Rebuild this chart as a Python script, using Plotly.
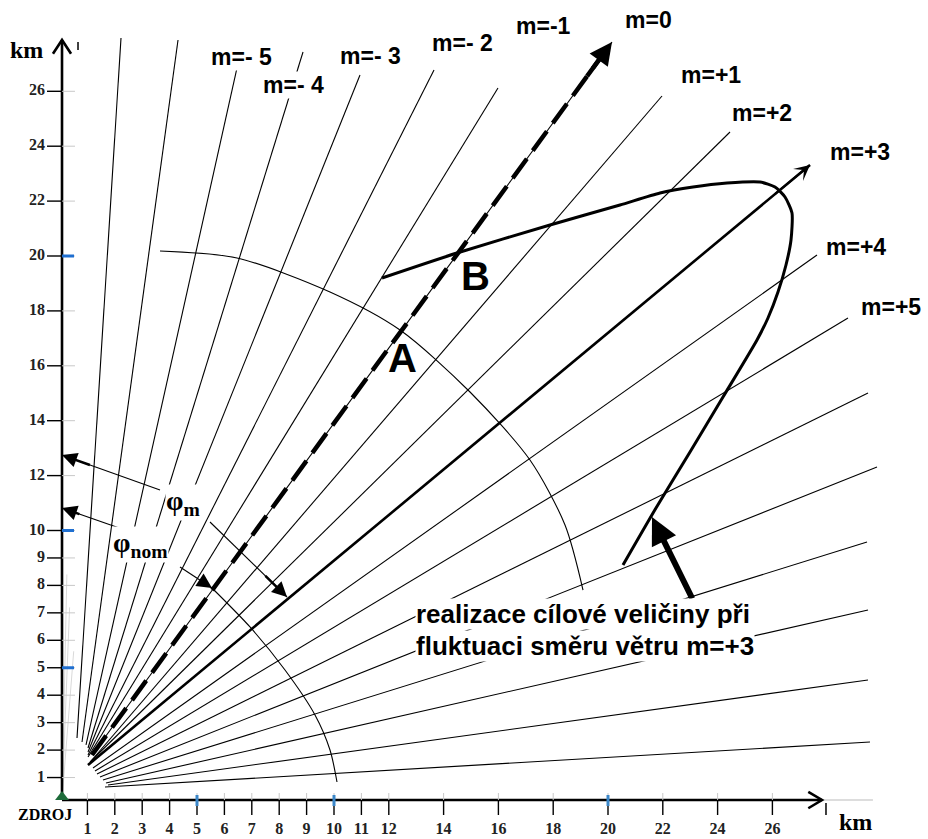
import plotly.graph_objects as go

# ---- calibrated view (km) ----
X_RANGE = [-2.190, 31.679]
Y_RANGE = [-1.2386, 29.326]

# ---- axes / ticks ----
x_tick_vals = [1, 2, 3, 4, 5, 6, 7, 8, 9, 10, 11, 12, 14, 16, 18, 20, 22, 24, 26]
y_tick_vals = [1, 2, 3, 4, 5, 6, 7, 8, 9, 10, 12, 14, 16, 18, 20, 22, 24, 26]
blue_tick_vals = [5, 10, 20]
axis_x0 = 0.073      # position of the drawn vertical axis
axis_y0 = 0.182      # position of the drawn horizontal axis
x_axis_end = 27.81
y_axis_end = 27.87

# ---- fan of wind-direction lines (km): start and end points ----
fan_x0 = [0.620, 0.803, 0.949, 1.022, 1.022, 1.022, 1.022, 1.168, 1.168, 1.095, 1.022, 1.204, 1.277, 1.350, 1.460,
          1.569, 1.679, 1.752, 1.642]
fan_y0 = [2.441, 2.295, 2.186, 2.077, 1.931, 1.821, 1.749, 1.821, 1.639, 1.566, 1.457, 1.348, 1.239, 1.129, 1.020,
          0.911, 0.801, 0.729, 0.656]
fan_x1 = [2.226, 4.307, 6.460, 8.869, 10.949, 13.650, 15.985, 20.146, 21.971, 24.453, 27.372, 27.628, 28.759,
          29.489, 29.818, 29.453, 29.489, 29.489, 29.562]
fan_y1 = [27.942, 27.869, 26.849, 27.432, 26.594, 26.776, 26.120, 27.796, 25.829, 24.517, 23.315, 20.036, 17.741,
          15.009, 12.313, 9.581, 7.104, 4.554, 2.295]

# faint guide traces next to the vertical axis
ghost_x1 = [0.35, 0.50, 0.25]
ghost_y1 = [7.2, 5.6, 8.4]

# ---- labels of the lines ----
m_labels = ["m=- 5", "m=- 4", "m=- 3", "m=- 2", "m=-1", "m=0", "m=+1", "m=+2", "m=+3", "m=+4", "m=+5"]
m_label_x = [6.606, 8.504, 11.350, 14.672, 17.664, 21.460, 23.759, 25.620, 29.197, 29.051, 30.328]
m_label_y = [27.250, 26.230, 27.286, 27.760, 28.379, 28.597, 26.594, 25.209, 23.794, 20.328, 18.142]

# nominal direction (m=0, dashed) and fluctuated direction (m=+3, bold)
nom_x = [1.168, 20.146]
nom_y = [1.821, 27.796]
m3_x = [1.022, 27.372]
m3_y = [1.457, 23.315]

# ---- realization of the target quantity for m=+3 ----
real_x = [11.752, 14.489, 17.883, 20.438, 21.898, 23.102, 24.343, 25.547, 26.095, 26.460, 26.715, 26.679, 26.496,
          26.204, 25.839, 25.438, 24.197, 22.993, 21.752, 20.547]
real_y = [19.199, 20.109, 21.129, 21.858, 22.295, 22.514, 22.659, 22.696, 22.514, 22.149, 21.566, 20.583, 19.672,
          18.689, 17.741, 16.940, 14.863, 12.860, 10.820, 8.743]

# ---- arcs ----
big_arc_x = [3.650, 6.460, 9.854, 12.409, 14.964, 17.153, 18.431, 19.088]
big_arc_y = [20.182, 19.927, 18.689, 17.304, 15.046, 12.568, 10.200, 7.832]
small_arc_x = [5.547, 6.934, 8.212, 9.307, 9.854, 10.109]
small_arc_y = [7.905, 6.485, 4.918, 3.279, 2.004, 0.838]

# angle leaders: phi_m and phi_nom (label end -> tip)
phim_a_x, phim_a_y = [3.650, 0.073], [11.475, 12.750]
phim_b_x, phim_b_y = [5.474, 8.285], [10.310, 7.577]
phin_a_x, phin_a_y = [2.372, 0.073], [10.018, 10.820]
phin_b_x, phin_b_y = [4.380, 5.547], [8.670, 7.905]

# pointer arrow to the realization curve
ptr_x = [23.102, 21.606]
ptr_y = [7.468, 10.492]

# ---- texts ----
point_labels = ["A", "B"]
point_x = [12.482, 15.182]
point_y = [16.284, 19.271]
note_lines = ["realizace cílové veličiny při", "fluktuaci směru větru m=+3"]
note_x = 12.956
note_y = [6.95, 5.80]

SERIF = "Liberation Serif, Times New Roman, serif"
SANS = "Liberation Sans, Arial, sans-serif"

fig = go.Figure()


def segs(x0, y0, x1, y1):
    X, Y = [], []
    for a, b, c, d in zip(x0, y0, x1, y1):
        X += [a, c, None]
        Y += [b, d, None]
    return X, Y


def add_line(x, y, width=1.2, color="black", dash=None, shape="linear", smoothing=1.0):
    fig.add_trace(go.Scatter(x=x, y=y, mode="lines", hoverinfo="skip", showlegend=False,
                             line=dict(color=color, width=width, dash=dash, shape=shape,
                                       smoothing=smoothing)))


# faint traces near the axis
gx, gy = segs([axis_x0] * 3, [axis_y0] * 3, ghost_x1, ghost_y1)
add_line(gx, gy, width=1, color="#d9d9d9")

# fan lines
fx, fy = segs(fan_x0, fan_y0, fan_x1, fan_y1)
add_line(fx, fy, width=1.1)

# arcs
add_line(big_arc_x, big_arc_y, width=1.1, shape="spline", smoothing=0.8)
add_line(small_arc_x, small_arc_y, width=1.1, shape="spline", smoothing=0.8)
for ax_, ay_ in [(phim_a_x, phim_a_y), (phim_b_x, phim_b_y), (phin_a_x, phin_a_y), (phin_b_x, phin_b_y)]:
    add_line(ax_, ay_, width=1.1)

# main directions
add_line(nom_x, nom_y, width=4.5, dash="24px,10px")
add_line(m3_x, m3_y, width=2.6)

# realization curve
add_line(real_x, real_y, width=3, shape="spline", smoothing=0.6)

# axes
add_line([axis_x0, axis_x0], [axis_y0, y_axis_end], width=2.6)
add_line([axis_x0, x_axis_end], [axis_y0, axis_y0], width=2.6)
add_line([x_axis_end, 29.67], [axis_y0, axis_y0], width=1, color="#bbbbbb")
# axis chevrons
add_line([axis_x0 - 0.33, axis_x0, axis_x0 + 0.33], [y_axis_end - 0.5, y_axis_end, y_axis_end - 0.5], width=2.6)
add_line([x_axis_end - 0.5, x_axis_end, x_axis_end - 0.5], [axis_y0 + 0.3, axis_y0, axis_y0 - 0.3], width=2.6)
add_line([27.956, 27.956], [0.073, -0.364], width=1.5)
add_line([0.657, 0.657], [27.8, 27.5], width=1.5)

# ticks
n_y = len(y_tick_vals)
n_x = len(x_tick_vals)
tx, ty = segs([-0.474] * n_y, y_tick_vals, [axis_x0] * n_y, y_tick_vals)
add_line(tx, ty, width=1.4)
tx, ty = segs([axis_x0] * n_y, y_tick_vals, [0.547] * n_y, y_tick_vals)
add_line(tx, ty, width=1, color="#c8c8c8")
tx, ty = segs(x_tick_vals, [axis_y0] * n_x, x_tick_vals, [-0.364] * n_x)
add_line(tx, ty, width=1.4)
tx, ty = segs(x_tick_vals, [axis_y0] * n_x, x_tick_vals, [0.437] * n_x)
add_line(tx, ty, width=1, color="#c8c8c8")
tx, ty = segs([axis_x0] * 3, blue_tick_vals, [0.511] * 3, blue_tick_vals)
add_line(tx, ty, width=3, color="#1f6fd0")
tx, ty = segs(blue_tick_vals, [0.364] * 3, blue_tick_vals, [-0.036] * 3)
add_line(tx, ty, width=3, color="#3a86c8")

# tick labels
fig.add_trace(go.Scatter(x=[-0.547] * n_y, y=y_tick_vals, mode="text",
                         text=[str(v) for v in y_tick_vals], textposition="middle left",
                         textfont=dict(family=SERIF, size=16, color="#222", weight="bold"),
                         hoverinfo="skip", showlegend=False))
fig.add_trace(go.Scatter(x=x_tick_vals, y=[-0.911] * n_x, mode="text",
                         text=[str(v) for v in x_tick_vals], textposition="middle center",
                         textfont=dict(family=SERIF, size=16, color="#222", weight="bold"),
                         hoverinfo="skip", showlegend=False))

# source marker
fig.add_trace(go.Scatter(x=[axis_x0], y=[0.291], mode="markers",
                         marker=dict(symbol="triangle-up", size=12, color="#1d6b3a"),
                         hoverinfo="skip", showlegend=False))

ann = []


def arrow(x, y, ax, ay, width=2, head=2, size=1.0):
    ann.append(dict(x=x, y=y, ax=ax, ay=ay, xref="x", yref="y", axref="x", ayref="y",
                    showarrow=True, arrowhead=head, arrowsize=size, arrowwidth=width,
                    arrowcolor="black", text="", standoff=0))


def toward(xs, ys, frac):
    return xs[1] + (xs[0] - xs[1]) * frac, ys[1] + (ys[0] - ys[1]) * frac


# arrowheads
bx, by = toward(nom_x, nom_y, 0.05)
arrow(nom_x[1], nom_y[1], bx, by, width=4.5, head=2, size=1.0)
bx, by = toward(m3_x, m3_y, 0.05)
arrow(m3_x[1], m3_y[1], bx, by, width=2, head=3, size=1.3)
arrow(ptr_x[1], ptr_y[1], ptr_x[0], ptr_y[0], width=6, head=2, size=0.9)
for xs, ys in [(phim_a_x, phim_a_y), (phin_a_x, phin_a_y), (phim_b_x, phim_b_y), (phin_b_x, phin_b_y)]:
    bx, by = toward(xs, ys, 0.3)
    arrow(xs[1], ys[1], bx, by, width=2.5, head=2, size=1.2)


def label(x, y, text, size, family=SANS, xanchor="center", bg="white"):
    ann.append(dict(x=x, y=y, xref="x", yref="y", text=text, showarrow=False, xanchor=xanchor,
                    yanchor="middle", bgcolor=bg, borderpad=0,
                    font=dict(family=family, size=size, color="black", weight="bold")))


for t, x, y in zip(m_labels, m_label_x, m_label_y):
    label(x, y, t, 23)
for t, x, y in zip(point_labels, point_x, point_y):
    label(x, y, t, 40, bg="rgba(0,0,0,0)")
for t, y in zip(note_lines, note_y):
    label(note_x, y, t, 26, xanchor="left")

label(4.489, 11.002, "φ<sub>m</sub>", 28, family=SERIF)
label(2.920, 9.472, "φ<sub>nom</sub>", 28, family=SERIF)
label(-1.241, 27.505, "km", 24, family=SERIF, bg="rgba(0,0,0,0)")
label(29.015, -0.619, "km", 24, family=SERIF, bg="rgba(0,0,0,0)")
label(-0.547, -0.364, "ZDROJ", 16, family=SERIF, bg="rgba(0,0,0,0)")

fig.update_layout(
    width=928, height=839, margin=dict(l=0, r=0, t=0, b=0),
    paper_bgcolor="white", plot_bgcolor="white",
    xaxis=dict(range=X_RANGE, visible=False, fixedrange=True),
    yaxis=dict(range=Y_RANGE, visible=False, fixedrange=True),
    annotations=ann, showlegend=False,
)

fig.write_html("out.html", config={"displayModeBar": False, "staticPlot": True},
               post_script="document.body.style.margin='0';document.body.style.overflow='hidden';")
